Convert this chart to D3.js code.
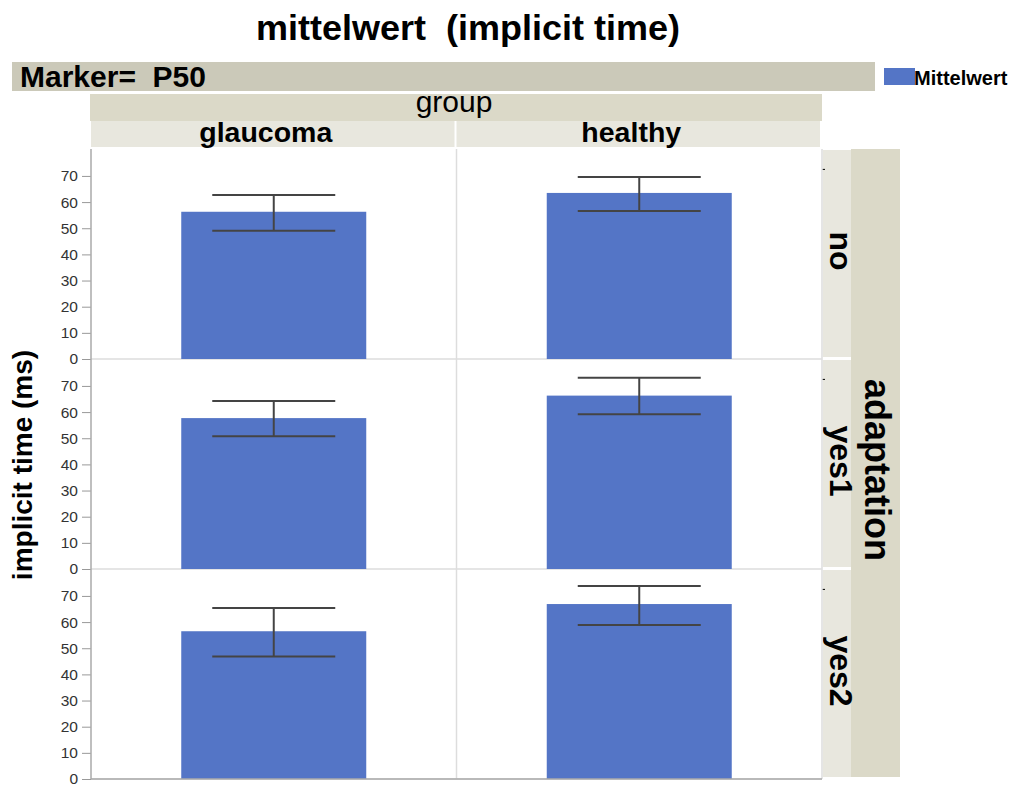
<!DOCTYPE html>
<html><head><meta charset="utf-8">
<script src="https://cdn.jsdelivr.net/npm/d3@7"></script>
<style>body{margin:0;background:#fff;} svg{font-family:"Liberation Sans",Arial,sans-serif;} text{white-space:pre;}</style>
</head><body>
<svg id="c" width="1013" height="787"></svg>
<script>
const groups = ["glaucoma","healthy"];
const adaptations = ["no","yes1","yes2"];
const means = [[56.3,63.5],[57.7,66.3],[56.5,66.9]];
const lowerErr = [[49.0,56.6],[50.8,59.2],[46.8,58.9]];
const upperErr = [[62.7,69.6],[64.2,73.1],[65.4,73.8]];
const yTicks = [0,10,20,30,40,50,60,70];

const svg = d3.select("#c");
const L = 91, R = 822, T = 149, B = 779;
const x = d3.scaleBand().domain(groups).range([L,R]).paddingInner(0).paddingOuter(0);
const rowBand = d3.scaleBand().domain(adaptations).range([T,B]);
const ph = rowBand.bandwidth();

// Title
svg.append("text").attr("x",468).attr("y",40).attr("text-anchor","middle")
  .attr("font-size",35).attr("font-weight","bold").attr("textLength",424).attr("lengthAdjust","spacingAndGlyphs")
  .text("mittelwert  (implicit time)");

// Marker bar
svg.append("rect").attr("x",12).attr("y",62).attr("width",863).attr("height",29).attr("fill","#cbc9b9");
svg.append("text").attr("x",20).attr("y",87).attr("font-size",30).attr("font-weight","bold").text("Marker=  P50");

// Legend
svg.append("rect").attr("x",884).attr("y",68).attr("width",31).attr("height",17).attr("fill","#5475c6");
svg.append("text").attr("x",914).attr("y",85).attr("font-size",20).attr("font-weight","bold").text("Mittelwert");

// Group header
svg.append("rect").attr("x",L-1).attr("y",94).attr("width",R-L+1).attr("height",27).attr("fill","#dbd9c8");
svg.append("text").attr("x",454).attr("y",112).attr("text-anchor","middle").attr("font-size",30).text("group");
groups.forEach(g=>{
  svg.append("rect").attr("x",x(g)).attr("y",121).attr("width",x.bandwidth()-2).attr("height",26).attr("fill","#e8e7de");
  svg.append("text").attr("x",x(g)+x.bandwidth()/2-8).attr("y",142).attr("text-anchor","middle")
    .attr("font-size",28.5).attr("font-weight","bold").text(g);
});

// Right strips
svg.append("rect").attr("x",851).attr("y",T).attr("width",49).attr("height",B-T-2).attr("fill","#dbd9c8");
svg.append("text").attr("transform",`translate(865,${(T+B)/2+6}) rotate(90)`).attr("text-anchor","middle")
  .attr("font-size",36).attr("font-weight","bold").text("adaptation");

// y label
svg.append("text").attr("transform",`translate(32,${(T+B)/2+1}) rotate(-90)`).attr("text-anchor","middle")
  .attr("font-size",28).attr("font-weight","bold").text("implicit time (ms)");

// panel background
svg.append("rect").attr("x",L).attr("y",T).attr("width",R-L).attr("height",B-T).attr("fill","#fff");

adaptations.forEach((a,i)=>{
  const top = rowBand(a);
  const y = d3.scaleLinear().domain([0,80.3]).range([top+ph, top]);
  // strip label
  svg.append("rect").attr("x",823).attr("y",top+1).attr("width",28).attr("height",ph-3).attr("fill","#e8e7de");
  svg.append("text").attr("transform",`translate(830,${top+ph/2-3}) rotate(90)`).attr("text-anchor","middle")
    .attr("font-size",32).attr("font-weight","bold").text(a);
  // right tick
  svg.append("line").attr("x1",R).attr("x2",R+3).attr("y1",y(72.5)).attr("y2",y(72.5)).attr("stroke","#000");
  // separator line
  svg.append("line").attr("x1",L).attr("x2",R).attr("y1",y(0)).attr("y2",y(0)).attr("stroke","#ddd").attr("stroke-width",1.5);
  // y axis
  const ax = svg.append("g").attr("transform",`translate(${L},0)`)
    .call(d3.axisLeft(y).tickValues(yTicks).tickSize(9).tickPadding(4));
  ax.select(".domain").remove();
  ax.selectAll(".tick line").attr("stroke","#999");
  ax.selectAll(".tick text").attr("font-size",15.5).attr("fill","#333").attr("font-family","'Liberation Sans',Arial,sans-serif");
  groups.forEach((g,j)=>{
    const cx = x(g)+x.bandwidth()/2;
    const bw = 185, cw = 123;
    svg.append("rect").attr("x",cx-bw/2).attr("y",y(means[i][j])).attr("width",bw)
      .attr("height",y(0)-y(means[i][j])).attr("fill","#5475c6");
    const ec = "#444";
    svg.append("line").attr("x1",cx).attr("x2",cx).attr("y1",y(upperErr[i][j])).attr("y2",y(lowerErr[i][j])).attr("stroke",ec).attr("stroke-width",2);
    [upperErr[i][j],lowerErr[i][j]].forEach(v=>{
      svg.append("line").attr("x1",cx-cw/2).attr("x2",cx+cw/2).attr("y1",y(v)).attr("y2",y(v)).attr("stroke",ec).attr("stroke-width",2);
    });
  });
});

// vertical separator & borders
svg.append("line").attr("x1",x("healthy")).attr("x2",x("healthy")).attr("y1",T).attr("y2",B).attr("stroke","#ddd").attr("stroke-width",1.5);
svg.append("line").attr("x1",R).attr("x2",R).attr("y1",T).attr("y2",B).attr("stroke","#ddd").attr("stroke-width",1.5);
svg.append("line").attr("x1",L).attr("x2",L).attr("y1",T).attr("y2",B).attr("stroke","#aaa").attr("stroke-width",1.5);
svg.append("line").attr("x1",L).attr("x2",R).attr("y1",B).attr("y2",B).attr("stroke","#aaa").attr("stroke-width",1.5);
</script>
</body></html>
